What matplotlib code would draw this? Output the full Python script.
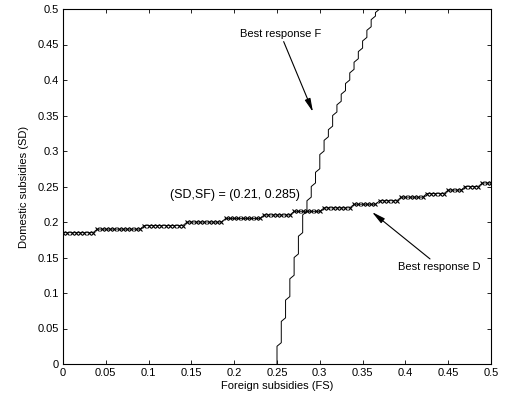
import numpy as np
import matplotlib
matplotlib.use("Agg")
import matplotlib.pyplot as plt

plt.rcParams['font.family'] = ['Liberation Sans', 'DejaVu Sans']

# Grid of subsidy values (step 0.005)
grid = [round(i * 0.005, 3) for i in range(101)]

# Best response D: SD as a function of FS
sd_best_D = ([0.185] * 8 + [0.19] * 11 + [0.195] * 10 + [0.2] * 9 + [0.205] * 9 +
             [0.21] * 7 + [0.215] * 7 + [0.22] * 7 + [0.225] * 6 + [0.23] * 5 +
             [0.235] * 6 + [0.24] * 5 + [0.245] * 4 + [0.25] * 4 + [0.255] * 3)

# Best response F: FS as a function of SD
fs_best_F = ([0.25] * 6 + [0.255] * 7 + [0.26] * 6 + [0.265] * 6 + [0.27] * 6 +
             [0.275] * 6 + [0.28] * 6 + [0.285] * 4 + [0.29] * 4 + [0.295] * 4 +
             [0.3] * 5 + [0.305] * 4 + [0.31] * 3 + [0.315] * 4 + [0.32] * 3 +
             [0.325] * 3 + [0.33] * 3 + [0.335] * 3 + [0.34] * 3 + [0.345] * 3 +
             [0.35] * 3 + [0.355] * 3 + [0.36] * 3 + [0.365] * 2 + [0.37] * 1)

tick_vals = [0, 0.05, 0.1, 0.15, 0.2, 0.25, 0.3, 0.35, 0.4, 0.45, 0.5]
tick_labels = ["0", "0.05", "0.1", "0.15", "0.2", "0.25", "0.3", "0.35", "0.4", "0.45", "0.5"]

fig = plt.figure(figsize=(5.06, 4.08), dpi=100)
ax = fig.add_axes([63 / 506, 1 - 364 / 408, (491 - 63) / 506, (364 - 9) / 408])

ax.plot(grid, sd_best_D, color='black', linewidth=0.6, marker='x',
        markersize=3.4, markeredgewidth=0.8)
ax.plot(fs_best_F, grid, color='black', linewidth=0.7)

ax.set_xlim(0, 0.5)
ax.set_ylim(0, 0.5)
ax.set_xticks(tick_vals)
ax.set_xticklabels(tick_labels)
ax.set_yticks(tick_vals)
ax.set_yticklabels(tick_labels)
ax.tick_params(direction='in', top=True, right=True, labelsize=8, length=3,
               width=0.6, pad=3)
for s in ax.spines.values():
    s.set_linewidth(0.8)

ax.set_xlabel("Foreign subsidies (FS)", fontsize=8, labelpad=2)
ax.set_ylabel("Domestic subsidies (SD)", fontsize=8, labelpad=6)

arrow = dict(arrowstyle='-|>,head_length=1.0,head_width=0.22', color='black',
             linewidth=0.8, shrinkA=0, shrinkB=0)
ax.annotate("Best response F", xy=(0.292, 0.355), xytext=(0.254, 0.458),
            fontsize=8, ha='center', va='bottom', arrowprops=arrow)
ax.annotate("Best response D", xy=(0.361, 0.214), xytext=(0.44, 0.13),
            fontsize=8, ha='center', va='bottom', arrowprops=arrow)
ax.text(0.125, 0.238, "(SD,SF) = (0.21, 0.285)", fontsize=9, ha='left', va='center')

fig.savefig("out.png", dpi=100)
